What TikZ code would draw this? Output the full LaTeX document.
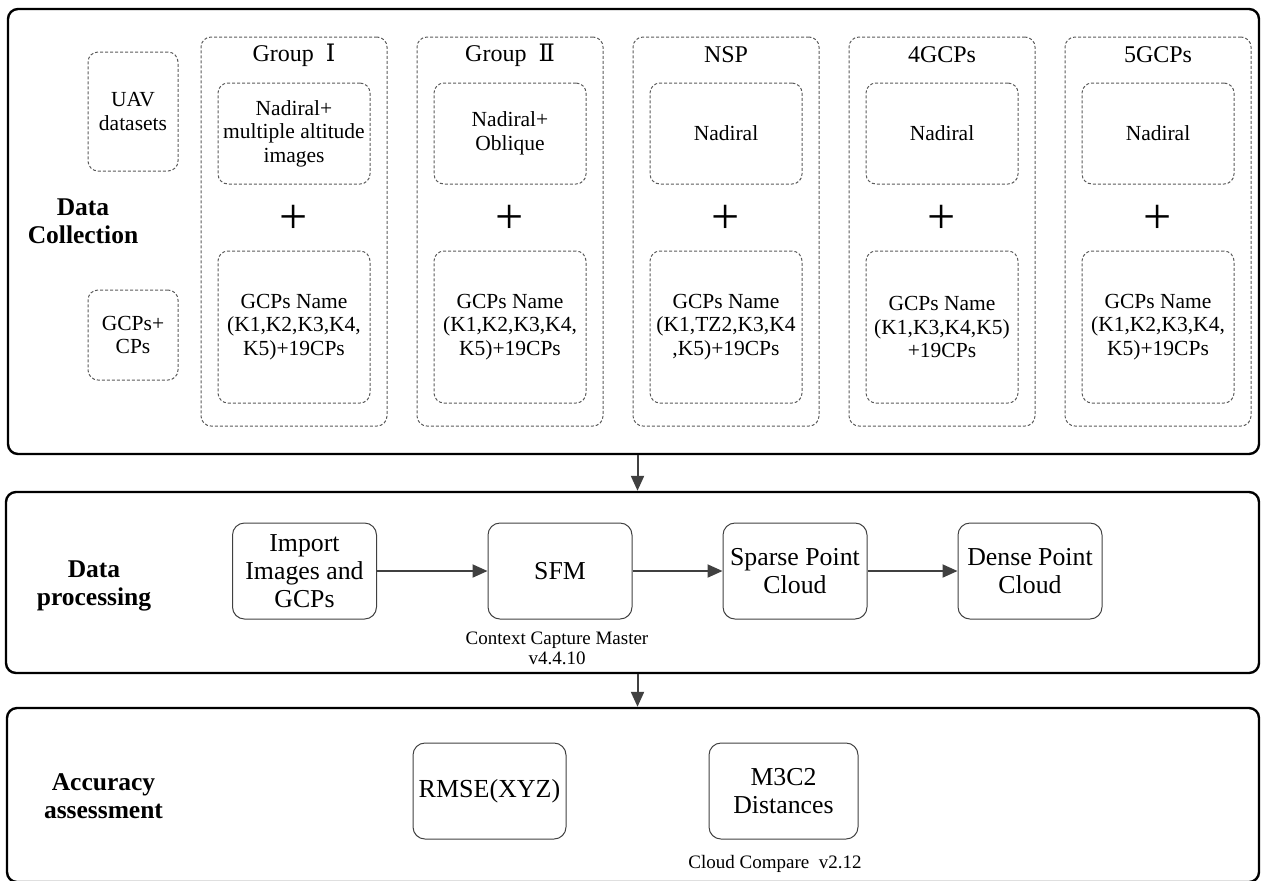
\documentclass[tikz,border=0pt]{standalone}
\usepackage{fontspec}
\setmainfont{Liberation Serif}
\newfontfamily\numfont{DejaVu Serif}
\usetikzlibrary{arrows.meta,positioning}
\definecolor{boxgray}{HTML}{5A5A5A}
\definecolor{arrgray}{HTML}{404040}
\tikzset{
  stage/.style={draw=black,line width=1.2pt,rounded corners=5pt,inner sep=0pt},
  grpbox/.style={draw=boxgray,dash pattern=on 1.5pt off 1pt,line width=0.5pt,rounded corners=5pt,
    minimum width=93pt,minimum height=194.5pt,inner sep=0pt},
  dbox/.style={draw=boxgray,dash pattern=on 1.5pt off 1pt,line width=0.5pt,rounded corners=5pt,
    minimum width=76pt,align=center,inner sep=1pt,font=\fontsize{10.75}{11.75}\selectfont},
  grptitle/.style={inner sep=0pt,font=\fontsize{12}{14}\selectfont},
  pbox/.style={draw=arrgray,line width=0.5pt,rounded corners=6pt,minimum width=72pt,minimum height=48pt,
    align=center,inner sep=1pt,font=\fontsize{12.9}{14}\selectfont},
  stagelabel/.style={align=center,font=\fontsize{12.75}{14}\selectfont\bfseries},
  note/.style={align=center,font=\fontsize{9.5}{10}\selectfont},
  flow/.style={draw=arrgray,line width=1pt,-{Triangle[length=7.5pt,width=6.5pt]}},
}
\begin{document}
\begin{tikzpicture}[x=0.5pt,y=-0.5pt]
	\useasboundingbox (0,0) rectangle (1261,880);
	
	% Stages
	\node[stage,minimum width=625.5pt,minimum height=222.5pt] (collect) at (633.5,231.5) {};
	\node[stage,minimum width=626.5pt,minimum height=90.5pt] (process) at (632.5,582.5) {};
	\node[stage,minimum width=626pt,minimum height=87pt] (assess) at (633,795) {};
	
	\node[stagelabel] (lblcollect) at (83,221) {Data\\Collection};
	\node[stagelabel] (lblprocess) at (94,586) {Data\\processing};
	\node[stagelabel] (lblassess) at (103.5,796) {Accuracy\\assessment};
	
	% Data collection
	\node[dbox,minimum width=45pt,minimum height=59.5pt] (uav) at (133,111.5) {UAV\\datasets};
	\node[dbox,minimum width=45pt,minimum height=45pt] (gcpcp) at (133,335) {GCPs+\\CPs};
	
	\foreach \i/\ttl/\img/\gcp in {
		1/{Group~~{\numfont Ⅰ}}/{Nadiral+\\multiple altitude\\images}/{GCPs Name\\(K1,K2,K3,K4,\\K5)+19CPs},
		2/{Group~~{\numfont Ⅱ}}/{Nadiral+\\Oblique}/{GCPs Name\\(K1,K2,K3,K4,\\K5)+19CPs},
		3/NSP/Nadiral/{GCPs Name\\(K1,TZ2,K3,K4\\,K5)+19CPs},
		4/4GCPs/Nadiral/{GCPs Name\\(K1,K3,K4,K5)\\+19CPs},
		5/5GCPs/Nadiral/{GCPs Name\\(K1,K2,K3,K4,\\K5)+19CPs}}
	{
		\pgfmathsetmacro\cx{294+216*(\i-1)}
		\node[grpbox] (grp\i) at (\cx,231.5) {};
		\node[grptitle] (ttl\i) at (\cx,55) {\ttl};
		\node[dbox,minimum height=50.5pt] (img\i) at (\cx,133.5) {\img};
		\node[font=\fontsize{25}{25}\selectfont,inner sep=0pt] (plus\i) at (\cx,219) {+};
		\node[dbox,minimum height=76pt] (gcp\i) at (\cx,327) {\gcp};
	}
	
	% Data processing
	\node[pbox] (import) at (304.5,571) {Import\\Images and\\GCPs};
	\node[pbox] (sfm) at (560,571) {SFM};
	\node[pbox] (sparse) at (795,571) {Sparse Point\\Cloud};
	\node[pbox] (dense) at (1030,571) {Dense Point\\Cloud};
	\node[note] (ccm) at (557,648) {Context Capture Master\\v4.4.10};
	
	\draw[flow] (import) -- (sfm);
	\draw[flow] (sfm) -- (sparse);
	\draw[flow] (sparse) -- (dense);
	
	% Accuracy assessment
	\node[pbox,minimum width=76.5pt,font=\fontsize{13}{14}\selectfont] (rmse) at (489.5,791) {RMSE(XYZ)};
	\node[pbox,minimum width=74.5pt] (m3c2) at (783.5,791) {M3C2\\Distances};
	\node[note] (cc) at (775,864) {Cloud Compare\ \ v2.12};
	
	% Between stages
	\coordinate (down1) at ([xshift=2pt]collect.south);
	\coordinate (down2) at ([xshift=2pt]collect.south |- process.south);
	\draw[flow] (down1) -- (down1 |- process.north);
	\draw[flow] (down2) -- (down2 |- assess.north);
\end{tikzpicture}
\end{document}
